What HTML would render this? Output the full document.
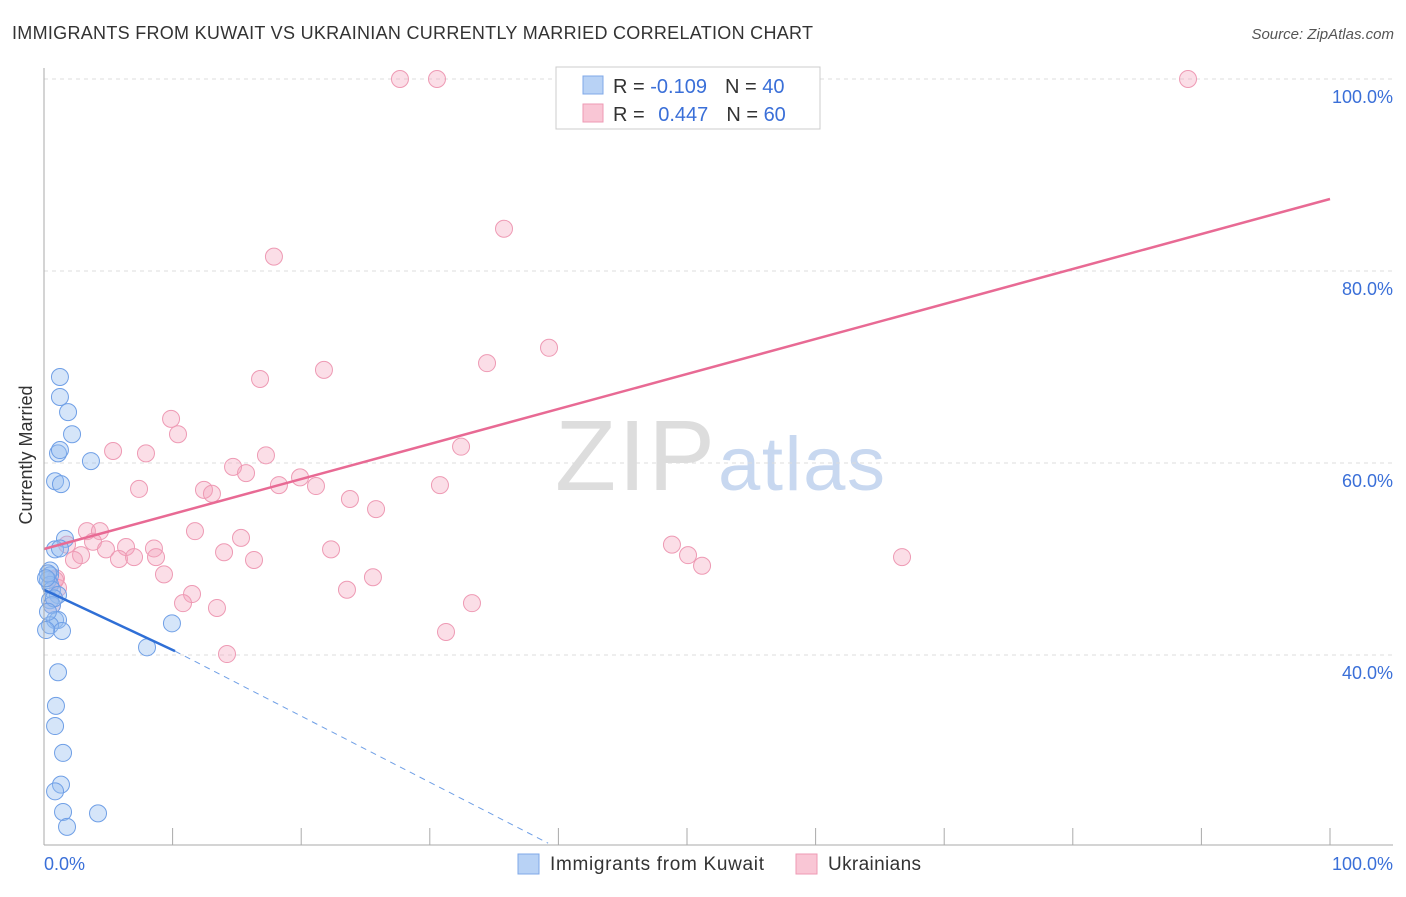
<!DOCTYPE html>
<html><head><meta charset="utf-8"><style>
body{margin:0;background:#fff;font-family:"Liberation Sans",sans-serif;}
svg text{font-family:"Liberation Sans",sans-serif;}
</style></head><body>
<svg width="1406" height="892" id="chart">
<text x="12" y="39" font-size="18" fill="#333" textLength="801">IMMIGRANTS FROM KUWAIT VS UKRAINIAN CURRENTLY MARRIED CORRELATION CHART</text>
<text x="1394" y="39" font-size="15" fill="#555" font-style="italic" text-anchor="end">Source: ZipAtlas.com</text>
<text x="555" y="490" font-size="100" fill="#ddd" textLength="160" font-family="Liberation Serif">ZIP</text>
<text x="718" y="490" font-size="76" fill="#c8d8f0" textLength="167">atlas</text>
<g id="grid"></g><g id="marks"></g>
<line x1="44" y1="68" x2="44" y2="845" stroke="#aaa"/>
<line x1="44" y1="845" x2="1393" y2="845" stroke="#aaa"/>
<text x="36" y="455" font-size="18" fill="#333" text-anchor="middle" transform="rotate(-90 36 455)" dy="-4">Currently Married</text>
<text x="44" y="870" font-size="18" fill="#3a6fd8">0.0%</text>
<text x="1393" y="870" font-size="18" fill="#3a6fd8" text-anchor="end">100.0%</text>
<g>
<rect x="556" y="67" width="264" height="62" fill="#fff" stroke="#ccc"/>
<rect x="583" y="76" width="20" height="18" fill="#b8d2f5" stroke="#7fa8e8"/>
<rect x="583" y="104" width="20" height="18" fill="#f9c6d5" stroke="#ee9ab4"/>
<text x="613" y="93" font-size="20" fill="#333">R = <tspan fill="#3a6fd8">-0.109</tspan><tspan dx="18">N = </tspan><tspan fill="#3a6fd8">40</tspan></text>
<text x="613" y="121" font-size="20" fill="#333">R = <tspan fill="#3a6fd8" dx="8">0.447</tspan><tspan dx="18">N = </tspan><tspan fill="#3a6fd8">60</tspan></text>
</g>
<g>
<rect x="518" y="854" width="21" height="20" fill="#b8d2f5" stroke="#7fa8e8"/>
<text x="550" y="870" font-size="19" fill="#333" textLength="214">Immigrants from Kuwait</text>
<rect x="796" y="854" width="21" height="20" fill="#f9c6d5" stroke="#ee9ab4"/>
<text x="828" y="870" font-size="19" fill="#333" textLength="93">Ukrainians</text>
</g>
</svg>
<script>
const yTicks=[100,80,60,40];
const yTickLabels=["100.0%","80.0%","60.0%","40.0%"];
const xTicks=[0,10,20,30,40,50,60,70,80,90,100];
const blueX=[1.24,1.24,1.87,2.18,1.09,1.24,3.65,0.86,1.32,1.63,0.86,1.24,0.47,0.47,0.31,0.47,0.62,1.09,0.47,0.62,0.86,1.09,0.47,1.4,9.95,8.01,1.09,0.93,0.86,1.48,1.32,0.86,1.48,1.79,4.2,0.31,0.16,0.78,0.31,0.16];
const blueY=[68.96,66.88,65.3,63.0,61.0,61.35,60.2,58.1,57.8,52.1,51.0,51.1,48.8,48.3,47.8,47.3,46.8,46.25,45.7,45.2,43.65,43.65,43.1,42.5,43.3,40.8,38.2,34.7,32.6,29.8,26.5,25.8,23.65,22.1,23.5,48.5,48.0,45.9,44.5,42.6];
const pinkX=[27.68,30.56,88.96,35.77,17.88,39.27,34.45,16.8,21.77,9.88,10.42,5.37,7.93,32.43,17.26,14.7,15.71,7.39,12.44,13.06,19.91,18.27,21.15,30.79,23.79,25.82,11.74,15.32,3.34,4.35,3.81,1.79,2.88,2.33,4.82,6.38,5.83,7.0,8.55,8.71,14.0,16.33,22.32,48.83,50.08,51.17,66.72,9.33,25.58,0.93,1.09,11.51,10.81,23.56,33.28,13.45,31.26,14.23,0.62,0.86];
const pinkY=[100,100,100,84.4,81.5,72.0,70.4,68.75,69.7,64.6,63.0,61.25,61.0,61.7,60.8,59.6,58.95,57.3,57.2,56.8,58.5,57.7,57.6,57.7,56.25,55.2,52.9,52.2,52.9,52.9,51.8,51.5,50.4,49.9,51.0,51.25,50.0,50.2,51.1,50.2,50.7,49.9,51.0,51.5,50.4,49.3,50.2,48.4,48.1,48.0,46.98,46.35,45.4,46.8,45.4,44.9,42.4,40.1,45.2,47.8];
const pinkTrend=[[0,51.04],[100,87.5]];
const blueTrendSolid=[[0,46.8],[10.19,40.4]];
const blueTrendDash=[[10.19,40.4],[39.2,20.4]];
const NS="http://www.w3.org/2000/svg";
const xs=v=>44+v*12.86, ys=v=>79+(100-v)*9.6;
const grid=document.getElementById('grid'), marks=document.getElementById('marks');
function mk(tag,attrs,parent){const e=document.createElementNS(NS,tag);for(const k in attrs)e.setAttribute(k,attrs[k]);parent.appendChild(e);return e;}
yTicks.forEach((t,i)=>{
 const l=mk('line',{x1:44,x2:1393,y1:ys(t),y2:ys(t),stroke:'#ddd','stroke-dasharray':'4,4'},grid);
 
 
 const tx=mk('text',{x:1393,y:ys(t)+24,'font-size':18,fill:'#3a6fd8','text-anchor':'end'},grid);
 tx.textContent=yTickLabels[i];
 
 
});
xTicks.forEach(t=>{
 const l=mk('line',{x1:xs(t),x2:xs(t),y1:828,y2:845,stroke:'#aaa'},grid);
 
 
});
pinkX.forEach((x,i)=>{
 const c=mk('circle',{cx:xs(x),cy:ys(pinkY[i]),r:8.5,fill:'rgba(244,160,186,0.35)',stroke:'#ee9ab4','stroke-width':1},marks);
 
 
});
blueX.forEach((x,i)=>{
 const c=mk('circle',{cx:xs(x),cy:ys(blueY[i]),r:8.5,fill:'rgba(150,190,240,0.4)',stroke:'#6f9fe6','stroke-width':1},marks);
 
 
});
const pt=mk('line',{x1:xs(pinkTrend[0][0]),y1:ys(pinkTrend[0][1]),x2:xs(pinkTrend[1][0]),y2:ys(pinkTrend[1][1]),stroke:'#e86a94','stroke-width':2.5},marks);


const bt=mk('line',{x1:xs(blueTrendSolid[0][0]),y1:ys(blueTrendSolid[0][1]),x2:xs(blueTrendSolid[1][0]),y2:ys(blueTrendSolid[1][1]),stroke:'#2f6fd6','stroke-width':2.5},marks);


const bd=mk('line',{x1:xs(blueTrendDash[0][0]),y1:ys(blueTrendDash[0][1]),x2:xs(blueTrendDash[1][0]),y2:ys(blueTrendDash[1][1]),stroke:'#6f9fe6','stroke-width':1,'stroke-dasharray':'6,5'},marks);


</script>
</body></html>
